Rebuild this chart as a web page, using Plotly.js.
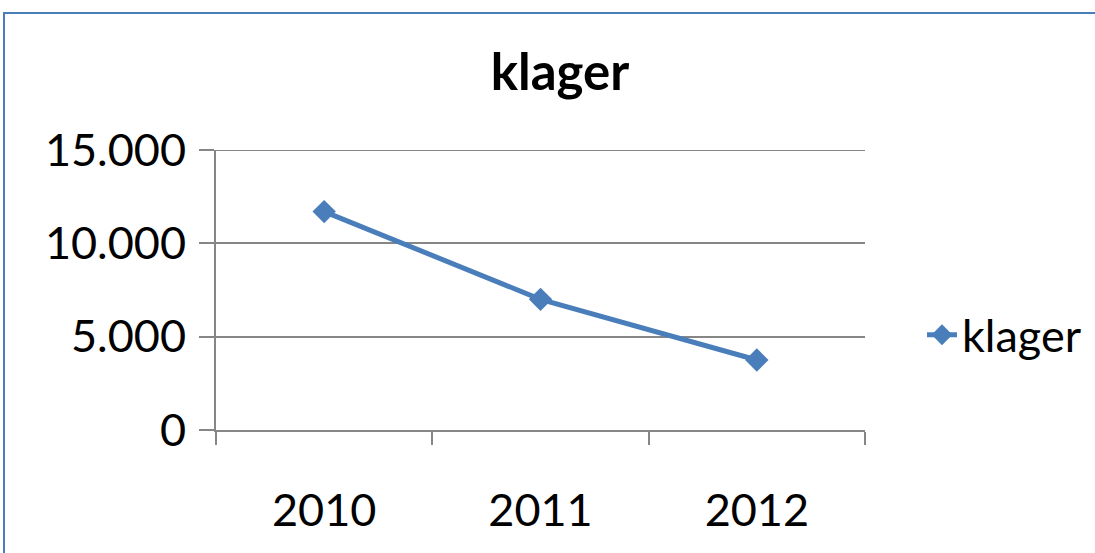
<!DOCTYPE html>
<html>
<head>
<meta charset="utf-8">
<script src="https://cdn.plot.ly/plotly-3.0.1.min.js"></script>
<style>
html,body{margin:0;padding:0;background:#fff;}
#chart{width:1095px;height:553px;}
</style>
</head>
<body>
<div id="chart"></div>
<script>
const years = ['2010', '2011', '2012'];
const klager = [11700, 7000, 3750];
const seriesName = 'klager';
const titleText = 'klager';
const yTicks = [0, 5000, 10000, 15000];

const blue = '#4a7ebb';
const grid = '#868686';
const fontFam = 'Lato, "Open Sans", sans-serif';

const trace = {
  x: years,
  y: klager,
  name: seriesName,
  type: 'scatter',
  mode: 'lines+markers',
  line: {color: blue, width: 5},
  marker: {symbol: 'diamond', size: 18, color: blue}
};

const L = 216, R = 865, T = 150, B = 430, W = 1095, H = 553;
const pw = R - L, ph = B - T;
const yMax = yTicks[yTicks.length - 1];

const layout = {
  width: W, height: H,
  margin: {l: L, r: W - R, t: T, b: H - B, pad: 0, autoexpand: false},
  paper_bgcolor: '#fff',
  plot_bgcolor: '#fff',
  separators: ',.',
  showlegend: true,
  font: {family: fontFam, color: '#000', size: 45},
  title: {
    text: '<b>' + titleText + '</b>',
    font: {family: fontFam, size: 51, color: '#000'},
    x: 560 / W, xanchor: 'center', xref: 'container',
    y: 1 - 72 / H, yanchor: 'middle', yref: 'container'
  },
  xaxis: {
    type: 'category',
    showgrid: false,
    showline: true, linecolor: grid, linewidth: 2,
    ticks: 'outside', tickson: 'boundaries', ticklen: 13, tickwidth: 2, tickcolor: grid,
    tickfont: {family: fontFam, size: 45, color: '#000'},
    ticklabelstandoff: 40,
    range: [-0.5, 2.5],
    fixedrange: true
  },
  yaxis: {
    range: [0, yMax],
    tickvals: yTicks,
    tickformat: ',d',
    showgrid: true, gridcolor: grid, gridwidth: 2,
    showline: true, linecolor: grid, linewidth: 2,
    zeroline: false,
    ticks: 'outside', ticklen: 15, tickwidth: 2, tickcolor: grid,
    tickfont: {family: fontFam, size: 45, color: '#000'},
    ticklabelstandoff: 4,
    fixedrange: true
  },
  legend: {
    x: (922 - L) / pw, xanchor: 'left',
    y: (B - 335) / ph, yanchor: 'middle',
    font: {family: fontFam, size: 45, color: '#000'},
    bgcolor: 'rgba(0,0,0,0)',
    itemwidth: 30
  },
  shapes: [{
    type: 'rect', xref: 'paper', yref: 'paper',
    x0: (4 - L) / pw, x1: (W + 20 - L) / pw,
    y0: (B - (H + 20)) / ph, y1: (B - 13) / ph,
    line: {color: blue, width: 2}, fillcolor: 'rgba(0,0,0,0)', layer: 'below'
  }, {
    type: 'line', xref: 'paper', yref: 'y',
    x0: 0, x1: 1, y0: yMax, y1: yMax,
    line: {color: grid, width: 2}, layer: 'below'
  }]
};

Plotly.newPlot('chart', [trace], layout, {displayModeBar: false, staticPlot: true});
</script>
</body>
</html>
